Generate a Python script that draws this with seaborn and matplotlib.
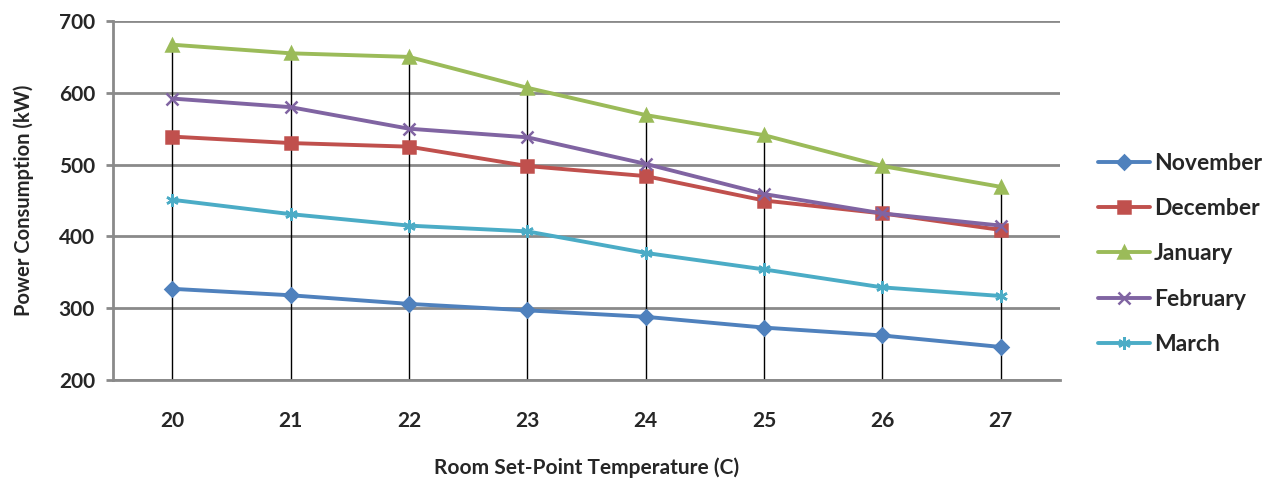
import numpy as np
import pandas as pd
import matplotlib
matplotlib.use("Agg")
import matplotlib.pyplot as plt
import seaborn as sns

# Room set-point temperatures (C)
temperatures = [20, 21, 22, 23, 24, 25, 26, 27]

# Power consumption (kW) per month
november = [327, 318, 306, 297, 288, 273, 262, 246]
december = [539, 530, 525, 498, 484, 450, 432, 409]
january = [667, 655, 650, 607, 569, 541, 498, 469]
february = [592, 580, 550, 538, 501, 459, 432, 415]
march = [451, 431, 415, 407, 377, 354, 329, 317]

months = ["November", "December", "January", "February", "March"]
series = [november, december, january, february, march]

colors = ["#4F81BD", "#C0504D", "#9BBB59", "#8064A2", "#4BACC6"]
markers = ["D", "s", "^", "x", (6, 2, 0)]
msizes = [7, 8, 9, 8, 9]

rows = []
for m, vals in zip(months, series):
    for t, v in zip(temperatures, vals):
        rows.append({"Temperature": t, "Power": v, "Month": m})
df = pd.DataFrame(rows)

sns.set_theme(style="white")
plt.rcParams["font.family"] = ["Lato", "DejaVu Sans"]
plt.rcParams["font.weight"] = "bold"
W = "bold"

fig = plt.figure(figsize=(12.79, 4.83), dpi=100)
ax = fig.add_axes([113 / 1279, 1 - 380 / 483, (1060 - 113) / 1279, (380 - 21) / 483])

ymin, ymax = 200, 700

# drop lines from the highest series down to the base of the plot
top = df.groupby("Temperature")["Power"].max()
ax.vlines(top.index, ymin, top.values, color="black", lw=1.0, zorder=2)

# one line per month so filled and line-art markers can be combined
for m, c, mk, ms in zip(months, colors, markers, msizes):
    sns.lineplot(
        data=df[df["Month"] == m], x="Temperature", y="Power",
        color=c, marker=mk, markersize=ms, markeredgewidth=1.8,
        markeredgecolor=c, markerfacecolor=c,
        lw=2.8, label=m, ax=ax, zorder=3,
    )

ax.set_xlim(19.5, 27.5)
ax.set_ylim(ymin, ymax)
ax.set_xticks(temperatures)
ax.set_yticks(range(200, 701, 100))
ax.yaxis.grid(True, color="#8a8a8a", lw=2.0, zorder=1)
ax.xaxis.grid(False)
for s in ["top", "right"]:
    ax.spines[s].set_visible(False)
for s in ["left", "bottom"]:
    ax.spines[s].set_color("#8a8a8a")
    ax.spines[s].set_linewidth(2.0)

ax.tick_params(axis="y", length=5, width=2.0, color="#8a8a8a", pad=8, labelsize=15, left=True)
ax.tick_params(axis="x", length=0, pad=22, labelsize=15)
for lab in ax.get_xticklabels() + ax.get_yticklabels():
    lab.set_fontweight(W)

ax.set_xlabel("Room Set-Point Temperature (C)", fontsize=15, fontweight=W, labelpad=19)
ax.set_ylabel("Power Consumption (kW)", fontsize=14.5, fontweight=W, labelpad=18)

handles, labels = ax.get_legend_handles_labels()
ax.legend(handles, labels, loc="center left", bbox_to_anchor=(1077 / 1279, 1 - 254 / 483),
          bbox_transform=fig.transFigure, frameon=False,
          labelspacing=1.05, handlelength=2.3, handletextpad=0.15,
          prop={"weight": W, "size": 16.5})

fig.savefig("out.png", dpi=100)
